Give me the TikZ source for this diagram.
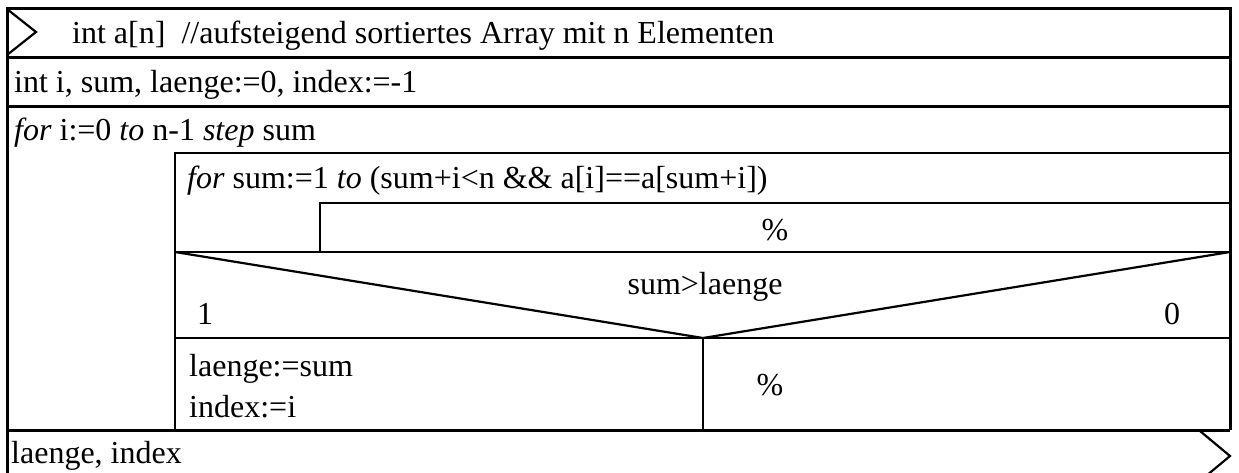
\documentclass[tikz,border=0pt]{standalone}
\usepackage{fontspec}
\setmainfont{Liberation Serif}
\begin{document}
\begin{tikzpicture}[x=1pt,y=-1pt,
  thick line/.style={line width=3pt},
  thin line/.style={line width=2.2pt},
  txt/.style={inner sep=0pt,font=\fontsize{32}{38}\selectfont},
  lefttxt/.style={txt,anchor=base west},
  ctrtxt/.style={txt,anchor=base}]
\useasboundingbox (0,0) rectangle (1239,472);
\clip (0,0) rectangle (1239,472);

% outer frame and top-level rows
\draw[thick line] (7,490) -- (7,8) -- (1230,8) -- (1230,430);
\draw[thick line] (7,57) -- (1230,57);
\draw[thick line] (7,106) -- (1230,106);
\draw[thick line] (7,430) -- (1230,430);
% bottom edge of the output row
\draw[thick line] (7,481) -- (1200,481);

% input symbol
\draw[thin line] (7,9) -- (36,32) -- (7,55);
% output symbol
\draw[thin line] (1200,431) -- (1230,456) -- (1200,481);

% outer loop body
\draw[thin line] (175,430) -- (175,153) -- (1230,153);
% inner loop
\draw[thin line] (320,252) -- (320,203) -- (1230,203);
\draw[thin line] (175,252) -- (1230,252);
% decision
\draw[thin line] (175,252) -- (703,338) -- (1230,252);
\draw[thin line] (175,338) -- (1230,338);
\draw[thin line] (703,338) -- (703,430);

% texts
\node[lefttxt] (inp) at (72,43) {int a[n]\ \ //aufsteigend sortiertes Array mit n Elementen};
\node[lefttxt] (decl) at (14,92) {int i, sum, laenge:=0, index:=-1};
\node[lefttxt] (outer) at (14,140) {\textit{for} i:=0 \textit{to} n-1 \textit{step} sum};
\node[lefttxt] (inner) at (187,188) {\textit{for} sum:=1 \textit{to} (sum+i<n \&\& a[i]==a[sum+i])};
\node[ctrtxt] (empty1) at (775,240) {\%};
\node[ctrtxt] (cond) at (705,294) {sum>laenge};
\node[ctrtxt] (yes) at (205,324) {1};
\node[ctrtxt] (no) at (1172,324) {0};
\node[lefttxt] (set1) at (189,376) {laenge:=sum};
\node[lefttxt] (set2) at (189,417) {index:=i};
\node[ctrtxt] (empty2) at (770,395) {\%};
\node[lefttxt] (out) at (11,463) {laenge, index};
\end{tikzpicture}
\end{document}
